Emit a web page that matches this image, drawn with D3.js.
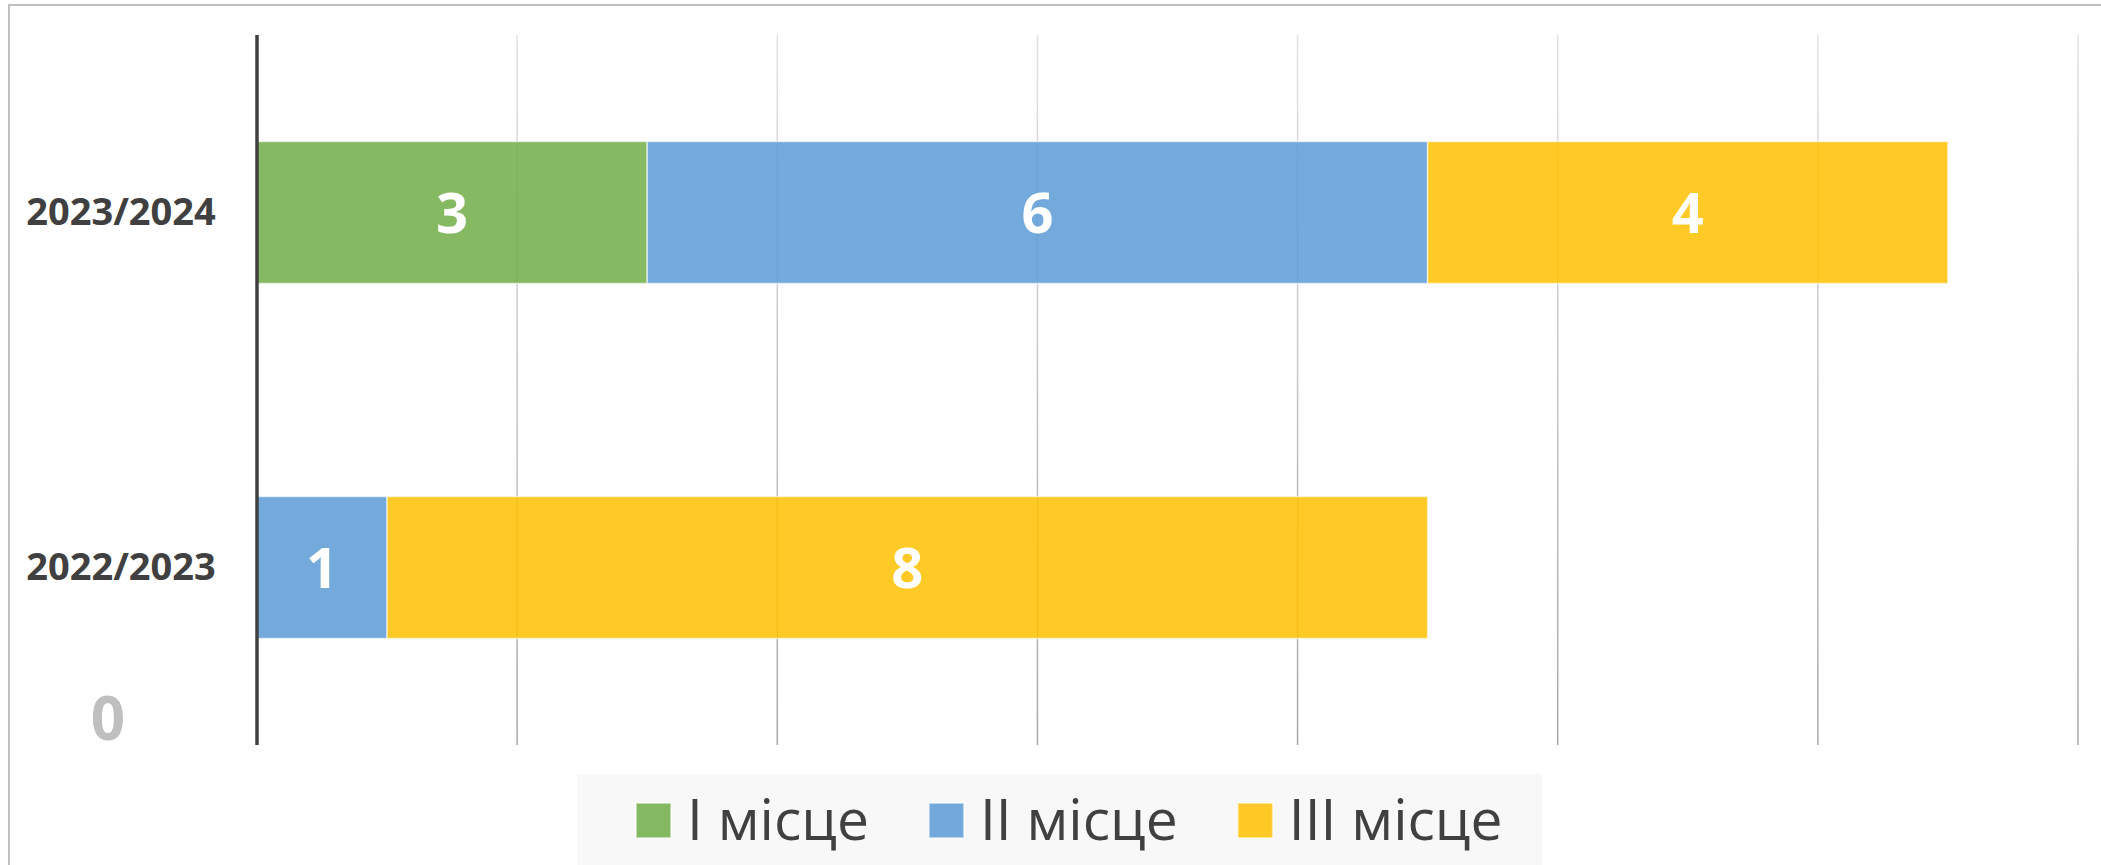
<!DOCTYPE html>
<html>
    <head>
        <title></title>
        <style>
            body { margin: 0; background: #fff; }
            svg { display: block; }
        </style>
    </head>
    <body>
        <script src="https://cdnjs.cloudflare.com/ajax/libs/d3/7.8.5/d3.min.js" charset="utf-8"></script>
        <script>

        var w = 2101;
        var h = 865;

        // data
        var categories = ["2022/2023", "2023/2024"];
        var seriesNames = ["I місце", "II місце", "III місце"];
        var place1 = [0, 3];
        var place2 = [1, 6];
        var place3 = [8, 4];
        var xTicks = [0, 2, 4, 6, 8, 10, 12, 14];

        var colors = ["#70AD47", "#5B9BD5", "#FFC000"];
        var font = "'Open Sans', 'Noto Sans', sans-serif";

        var rows = categories.map(function(c, i) {
            return { cat: c, values: [place1[i], place2[i], place3[i]] };
        });

        var xScale = d3.scaleLinear()
                       .domain([0, 14])
                       .range([257, 2078]);

        // Excel draws first category at the bottom
        var yScale = d3.scaleBand()
                       .domain(categories)
                       .range([745, 35])
                       .paddingInner(0.6)
                       .paddingOuter(0.3);

        var svg = d3.select("body")
                    .append("svg")
                    .attr("width", w)
                    .attr("height", h);

        // gridline gradient (light at top, darker at bottom)
        var grad = svg.append("defs").append("linearGradient")
            .attr("id", "gridGrad")
            .attr("gradientUnits", "userSpaceOnUse")
            .attr("x1", 0).attr("y1", 35).attr("x2", 0).attr("y2", 745);
        grad.append("stop").attr("offset", "0%").attr("stop-color", "#e2e2e2");
        grad.append("stop").attr("offset", "100%").attr("stop-color", "#a8a8a8");

        // outer frame
        svg.append("rect")
            .attr("x", 9).attr("y", 5)
            .attr("width", w + 20).attr("height", h + 20)
            .attr("fill", "none")
            .attr("stroke", "#bfbfbf")
            .attr("stroke-width", 2);

        // vertical gridlines
        svg.selectAll("line.grid")
            .data(xTicks.slice(1))
            .enter()
            .append("line")
            .attr("class", "grid")
            .attr("x1", function(d) { return xScale(d); })
            .attr("x2", function(d) { return xScale(d); })
            .attr("y1", 35)
            .attr("y2", 745)
            .attr("stroke", "url(#gridGrad)")
            .attr("stroke-width", 1.5);

        // stacked bars
        var stack = d3.stack()
            .keys([0, 1, 2])
            .value(function(d, k) { return d.values[k]; });
        var layers = stack(rows);

        var groups = svg.selectAll("g.layer")
            .data(layers)
            .enter()
            .append("g")
            .attr("class", "layer");

        groups.selectAll("rect")
            .data(function(d) {
                return d.map(function(s) { return { s: s, k: d.key }; })
                        .filter(function(e) { return e.s[1] > e.s[0]; });
            })
            .enter()
            .append("rect")
            .attr("x", function(d) { return xScale(d.s[0]); })
            .attr("y", function(d) { return yScale(d.s.data.cat); })
            .attr("width", function(d) { return xScale(d.s[1]) - xScale(d.s[0]); })
            .attr("height", yScale.bandwidth())
            .attr("fill", function(d) { return colors[d.k]; })
            .attr("fill-opacity", 0.85)
            .attr("stroke", "#ffffff")
            .attr("stroke-opacity", 0.6)
            .attr("stroke-width", 1.5);

        // value labels
        groups.selectAll("text")
            .data(function(d) {
                return d.filter(function(s) { return s[1] > s[0]; });
            })
            .enter()
            .append("text")
            .text(function(d) { return d[1] - d[0]; })
            .attr("x", function(d) { return (xScale(d[0]) + xScale(d[1])) / 2; })
            .attr("y", function(d) { return yScale(d.data.cat) + yScale.bandwidth() / 2 + 20; })
            .attr("text-anchor", "middle")
            .attr("font-family", font)
            .attr("font-weight", "bold")
            .attr("font-size", "56px")
            .attr("fill", "#ffffff");

        // category axis line
        svg.append("line")
            .attr("x1", xScale(0)).attr("x2", xScale(0))
            .attr("y1", 35).attr("y2", 745)
            .attr("stroke", "#404040")
            .attr("stroke-width", 3.5);

        // category labels
        svg.selectAll("text.cat")
            .data(categories)
            .enter()
            .append("text")
            .attr("class", "cat")
            .text(function(d) { return d; })
            .attr("x", 121)
            .attr("y", function(d) { return yScale(d) + yScale.bandwidth() / 2 + 12; })
            .attr("text-anchor", "middle")
            .attr("font-family", font)
            .attr("font-weight", "bold")
            .attr("font-size", "38px")
            .attr("fill", "#404040");

        // stray zero label
        svg.append("text")
            .text(xTicks[0])
            .attr("x", 108)
            .attr("y", 740)
            .attr("text-anchor", "middle")
            .attr("font-family", font)
            .attr("font-weight", "bold")
            .attr("font-size", "60px")
            .attr("fill", "#bfbfbf");

        // legend
        svg.append("rect")
            .attr("x", 577).attr("y", 774)
            .attr("width", 965).attr("height", 100)
            .attr("fill", "#f8f8f8");

        var lx = 636;
        seriesNames.forEach(function(name, i) {
            svg.append("rect")
                .attr("x", lx).attr("y", 803)
                .attr("width", 35).attr("height", 35)
                .attr("fill", colors[i])
                .attr("fill-opacity", 0.85)
                .attr("stroke", "#ffffff")
                .attr("stroke-opacity", 0.5)
                .attr("stroke-width", 2);
            var t = svg.append("text")
                .text(name)
                .attr("x", lx + 51)
                .attr("y", 840)
                .attr("font-family", "'Open Sans', sans-serif")
                .attr("font-size", "57px")
                .attr("fill", "#404040");
            lx = lx + 51 + t.node().getComputedTextLength() + 60;
        });

        </script>
    </body>
</html>
